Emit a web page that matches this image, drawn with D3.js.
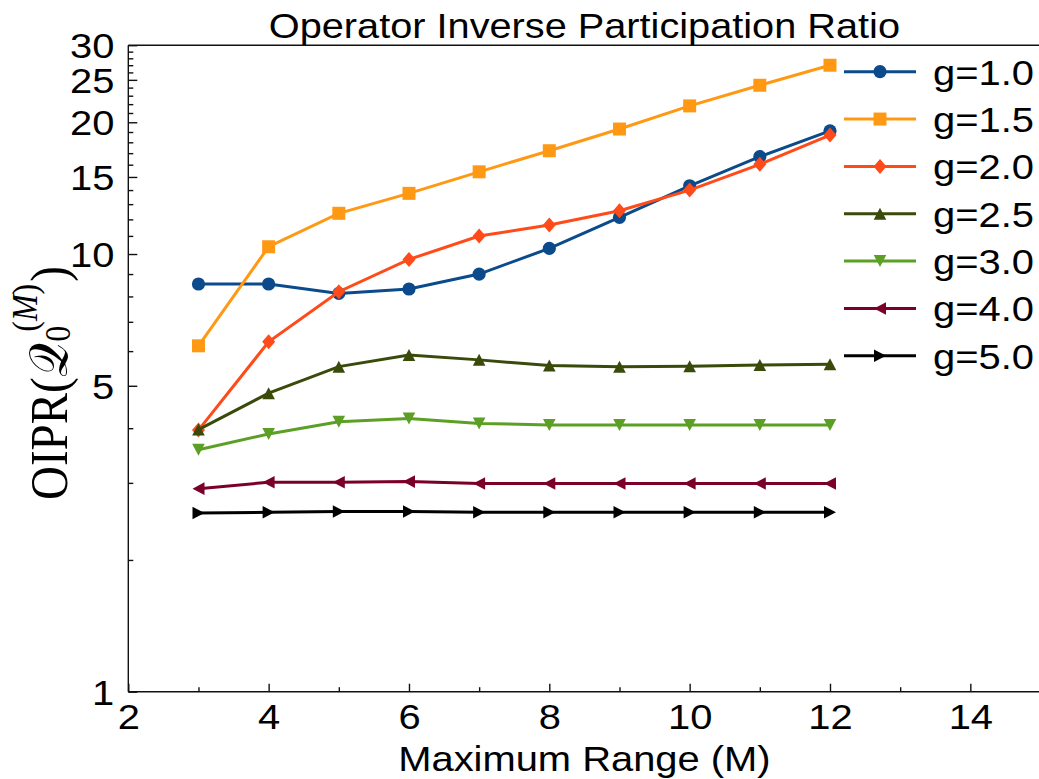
<!DOCTYPE html>
<html>
<head>
<meta charset="utf-8">
<script src="https://cdn.jsdelivr.net/npm/d3@7"></script>
<style>
  body { margin: 0; background: #fff; }
  text { font-family: "Liberation Sans", Arial, Helvetica, sans-serif; fill: #000; }
</style>
</head>
<body>
<svg id="chart" width="1039" height="779"></svg>
<script>
// Maximum range M on the x axis
const rangeM = [3, 4, 5, 6, 7, 8, 9, 10, 11, 12];

// OIPR values for each coupling g
const g10 = [8.54, 8.54, 8.13, 8.32, 9.00, 10.30, 12.13, 14.32, 16.69, 19.12];
const g15 = [6.17, 10.39, 12.39, 13.76, 15.41, 17.22, 19.30, 21.8, 24.3, 27.0];
const g20 = [3.96, 6.30, 8.20, 9.72, 10.99, 11.65, 12.56, 14.0, 16.03, 18.70];
const g25 = [3.97, 4.81, 5.53, 5.88, 5.73, 5.56, 5.53, 5.54, 5.58, 5.60];
const g30 = [3.57, 3.88, 4.14, 4.21, 4.10, 4.07, 4.07, 4.07, 4.07, 4.07];
const g40 = [2.91, 3.01, 3.01, 3.02, 2.99, 2.99, 2.99, 2.99, 2.99, 2.99];
const g50 = [2.56, 2.57, 2.58, 2.58, 2.57, 2.57, 2.57, 2.57, 2.57, 2.57];

const seriesLabels = ["g=1.0", "g=1.5", "g=2.0", "g=2.5", "g=3.0", "g=4.0", "g=5.0"];
const seriesValues = [g10, g15, g20, g25, g30, g40, g50];
const seriesColors = ["#0b4a8b", "#ff9914", "#ff4b1a", "#3a4a0a", "#5ba024", "#7b0029", "#000000"];
const seriesMarkers = ["circle", "square", "diamond", "triUp", "triDown", "triLeft", "triRight"];

// Axis ticks
const xMajorTicks = [2, 4, 6, 8, 10, 12, 14];
const xMinorTicks = [3, 5, 7, 9, 11, 13];
const yMajorTicks = [1, 5, 10, 15, 20, 25, 30];
const yMinorTicks = d3.range(2, 30).filter(v => !yMajorTicks.includes(v));

const svg = d3.select("#chart");
const SX = 1.14; // horizontal stretch of the lettering

const x = d3.scaleLinear().domain([2, 15]).range([128.3, 1040.5]);
const y = d3.scaleLog().domain([1, 30]).range([691.7, 45.2]);

// Marker shapes
function markerPath(kind) {
  switch (kind) {
    case "circle": return d3.symbol(d3.symbolCircle, Math.PI * 6.6 * 6.6)();
    case "square": return "M-6.5,-6.5H6.5V6.5H-6.5Z";
    case "diamond": return "M0,-7.5L6.5,0L0,7.5L-6.5,0Z";
    case "triUp": return "M0,-6L6.3,6L-6.3,6Z";
    case "triDown": return "M0,6L6.3,-6L-6.3,-6Z";
    case "triLeft": return "M-6,0L6,-6.3L6,6.3Z";
    case "triRight": return "M6,0L-6,-6.3L-6,6.3Z";
  }
}

// Axes frame
const frame = svg.append("g").attr("stroke", "#111").attr("stroke-width", 1.4).attr("fill", "none");
frame.append("line").attr("x1", x(2)).attr("x2", x(15)).attr("y1", y(1)).attr("y2", y(1));
frame.append("line").attr("x1", x(2)).attr("x2", x(15)).attr("y1", y(30)).attr("y2", y(30));
frame.append("line").attr("x1", x(2)).attr("x2", x(2)).attr("y1", y(1)).attr("y2", y(30));

// X axis (ticks pointing inward)
const xAxisG = svg.append("g").attr("transform", `translate(0,${y(1)})`)
  .call(d3.axisBottom(x).tickValues(xMajorTicks).tickSize(-8).tickFormat(d3.format("d")));
const xMinorG = svg.append("g").attr("transform", `translate(0,${y(1)})`)
  .call(d3.axisBottom(x).tickValues(xMinorTicks).tickSize(-4.5).tickFormat(""));
[xAxisG, xMinorG].forEach(g => {
  g.select(".domain").remove();
  g.selectAll(".tick line").attr("stroke", "#111").attr("stroke-width", 1.4);
});
xAxisG.selectAll(".tick text")
  .attr("y", 37.3).attr("dy", 0)
  .attr("transform", `scale(${SX},1)`)
  .style("font-size", "35px");

// Y axis (log, ticks pointing inward)
const yAxisG = svg.append("g").attr("transform", `translate(${x(2)},0)`)
  .call(d3.axisLeft(y).tickValues(yMajorTicks).tickSize(-9).tickFormat(d3.format("d")));
const yMinorG = svg.append("g").attr("transform", `translate(${x(2)},0)`)
  .call(d3.axisLeft(y).tickValues(yMinorTicks).tickSize(-5).tickFormat(""));
[yAxisG, yMinorG].forEach(g => {
  g.select(".domain").remove();
  g.selectAll(".tick line").attr("stroke", "#111").attr("stroke-width", 1.4);
});
yAxisG.selectAll(".tick text")
  .attr("x", -14 / SX).attr("dy", "0.36em")
  .attr("transform", `scale(${SX},1)`)
  .style("font-size", "35px");

// Series lines and markers
const line = d3.line().x((d, i) => x(rangeM[i])).y(d => y(d));
seriesValues.forEach((vals, s) => {
  const g = svg.append("g");
  g.append("path").datum(vals)
    .attr("d", line)
    .attr("fill", "none")
    .attr("stroke", seriesColors[s])
    .attr("stroke-width", 3);
  g.selectAll("path.mk").data(vals).join("path")
    .attr("class", "mk")
    .attr("d", markerPath(seriesMarkers[s]))
    .attr("transform", (d, i) => `translate(${x(rangeM[i])},${y(d)})`)
    .attr("fill", seriesColors[s]);
});

// Legend
const legend = svg.append("g");
seriesLabels.forEach((lab, s) => {
  const ly = 71.7 + s * 47.35;
  legend.append("line").attr("x1", 844).attr("x2", 916).attr("y1", ly).attr("y2", ly)
    .attr("stroke", seriesColors[s]).attr("stroke-width", 3);
  legend.append("path").attr("d", markerPath(seriesMarkers[s]))
    .attr("transform", `translate(880,${ly})`).attr("fill", seriesColors[s]);
  legend.append("text")
    .attr("transform", `translate(933,${ly + 13}) scale(${SX},1)`)
    .style("font-size", "35px")
    .text(lab);
});

// Title
svg.append("text")
  .attr("transform", `translate(${(x(2) + x(15)) / 2},38) scale(1.135,1)`)
  .attr("text-anchor", "middle")
  .style("font-size", "35px")
  .text("Operator Inverse Participation Ratio");

// X axis label
svg.append("text")
  .attr("transform", `translate(${(x(2) + x(15)) / 2},771) scale(${SX},1)`)
  .attr("text-anchor", "middle")
  .style("font-size", "35px")
  .text("Maximum Range (M)");

// Y axis label: OIPR(Q_0^(M))
const yl = svg.append("text")
  .attr("transform", `translate(67,500) rotate(-90) scale(1,${SX})`)
  .style("font-family", "'Liberation Serif', 'DejaVu Serif', serif")
  .style("font-size", "47px");
yl.append("tspan").text("OIPR(");
yl.append("tspan").text("\u{1D4AC}");
yl.append("tspan").style("font-size", "32px").attr("dx", 2).attr("dy", 3).text("0");
yl.append("tspan").style("font-size", "32px").attr("dx", -6).attr("dy", -29)
  .html('(<tspan style="font-style:italic">M</tspan>)');
yl.append("tspan").attr("dx", 2).attr("dy", 26).text(")");
</script>
</body>
</html>
